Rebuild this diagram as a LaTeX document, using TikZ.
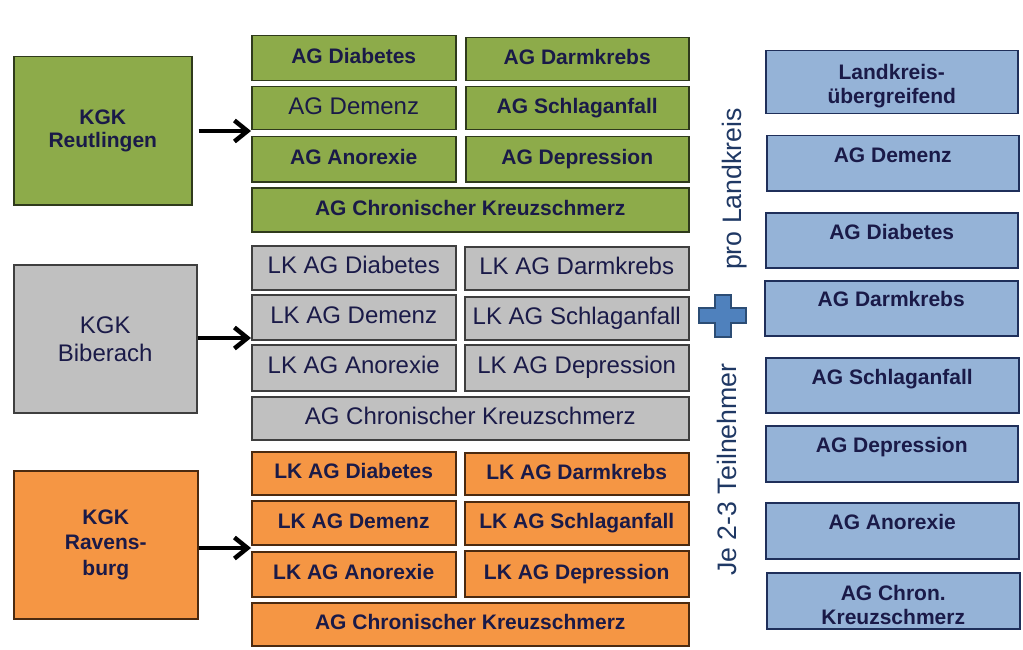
\documentclass[tikz,border=0pt]{standalone}
\usepackage{fontspec}
\setmainfont{Liberation Sans}
\usetikzlibrary{arrows.meta}
\definecolor{navy}{HTML}{1A1A48}
\definecolor{gfill}{HTML}{8DAB4A}
\definecolor{gline}{HTML}{2F3A1C}
\definecolor{sfill}{HTML}{C0C0C0}
\definecolor{sline}{HTML}{3F3F3F}
\definecolor{ofill}{HTML}{F59644}
\definecolor{oline}{HTML}{4A2A10}
\definecolor{bfill}{HTML}{95B3D7}
\definecolor{bline}{HTML}{1F2F5A}
\definecolor{pfill}{HTML}{4F81BD}
\definecolor{pline}{HTML}{2C4D75}
\definecolor{rtext}{HTML}{1F3864}
\newcommand\myfb{\fontsize{21}{24}\selectfont\bfseries}
\newcommand\myfr{\fontsize{24}{28}\selectfont}
\tikzset{
  cell/.style={draw, line width=1.5pt, anchor=north west, inner sep=0pt, text=navy},
  cb/.style={font=\myfb, text height=15pt, text depth=4.4pt},
  cr/.style={font=\myfr, text height=17.2pt, text depth=5pt},
  gc/.style={fill=gfill, draw=gline},
  sc/.style={fill=sfill, draw=sline},
  oc/.style={fill=ofill, draw=oline},
  kgk/.style={draw, line width=1.5pt, anchor=north west, inner sep=0pt, text=navy, align=center, minimum height=148pt},
  arr/.style={line width=4.5pt, black, -{Straight Barb[length=13pt,width=21pt]}},
  bbox/.style={draw=bline, fill=bfill, line width=1.5pt, anchor=north west, inner sep=0pt, minimum width=252pt},
  btext/.style={anchor=north, inner sep=0pt, font=\myfb, text=navy, align=center},
  rot/.style={rotate=90, anchor=base, inner sep=0pt, font=\fontsize{26.7}{30}\selectfont, text=rtext},
  plusshape/.style={fill=pfill, draw=pline, line width=2pt, line join=miter}
}
\begin{document}
\begin{tikzpicture}[x=1pt,y=-1pt]
\useasboundingbox (0,0) rectangle (1023,650);

% ---------- Reutlingen (green) ----------
\node[kgk,gc,minimum width=178pt,font={\fontsize{21}{23}\selectfont\bfseries}] (kR) at (13,56) {KGK\\Reutlingen};
\node[cell,gc,cb,minimum width=204pt,minimum height=45pt] (g1) at (251,35) {AG Diabetes};
\node[cell,gc,cb,minimum width=223pt,minimum height=43pt] (g2) at (465,37) {AG Darmkrebs};
\node[cell,gc,cr,minimum width=204pt,minimum height=43pt] (g3) at (251,86) {AG Demenz};
\node[cell,gc,cb,minimum width=223pt,minimum height=43pt] (g4) at (465,86) {AG Schlaganfall};
\node[cell,gc,cb,minimum width=204pt,minimum height=45pt] (g5) at (251,136) {AG Anorexie};
\node[cell,gc,cb,minimum width=223pt,minimum height=45pt] (g6) at (465,136) {AG Depression};
\node[cell,gc,cb,minimum width=437pt,minimum height=44pt] (g7) at (251,187) {AG Chronischer Kreuzschmerz};
\coordinate (tR) at (251,131);
\draw[arr] ([xshift=6pt]kR.east |- tR) -- (tR);

% ---------- Biberach (gray) ----------
\node[kgk,sc,minimum width=183pt,font={\fontsize{24}{28}\selectfont}] (kB) at (13,264) {KGK\\Biberach};
\node[cell,sc,cr,minimum width=204pt,minimum height=44pt] (s1) at (251,245) {LK AG Diabetes};
\node[cell,sc,cr,minimum width=224pt,minimum height=43pt] (s2) at (464,246) {LK AG Darmkrebs};
\node[cell,sc,cr,minimum width=204pt,minimum height=45pt] (s3) at (251,294) {LK AG Demenz};
\node[cell,sc,cr,minimum width=224pt,minimum height=43pt] (s4) at (464,296) {LK AG Schlaganfall};
\node[cell,sc,cr,minimum width=204pt,minimum height=46pt] (s5) at (251,344) {LK AG Anorexie};
\node[cell,sc,cr,minimum width=224pt,minimum height=46pt] (s6) at (464,344) {LK AG Depression};
\node[cell,sc,cr,minimum width=437pt,minimum height=43pt] (s7) at (251,396) {AG Chronischer Kreuzschmerz};
\coordinate (tB) at (251,338);
\draw[arr] (kB.east |- tB) -- (tB);

% ---------- Ravensburg (orange) ----------
\node[kgk,oc,minimum width=184pt,font={\fontsize{21}{25.5}\selectfont\bfseries}] (kO) at (13,470) {KGK\\Ravens-\\burg};
\node[cell,oc,cb,minimum width=204pt,minimum height=43pt] (o1) at (251,451) {LK AG Diabetes};
\node[cell,oc,cb,minimum width=224pt,minimum height=42pt] (o2) at (464,452) {LK AG Darmkrebs};
\node[cell,oc,cb,minimum width=204pt,minimum height=44pt] (o3) at (251,500) {LK AG Demenz};
\node[cell,oc,cb,minimum width=224pt,minimum height=43pt] (o4) at (464,501) {LK AG Schlaganfall};
\node[cell,oc,cb,minimum width=204pt,minimum height=45pt] (o5) at (251,551) {LK AG Anorexie};
\node[cell,oc,cb,minimum width=224pt,minimum height=46pt] (o6) at (464,550) {LK AG Depression};
\node[cell,oc,cb,minimum width=437pt,minimum height=43pt] (o7) at (251,602) {AG Chronischer Kreuzschmerz};
\coordinate (tO) at (251,548);
\draw[arr] (kO.east |- tO) -- (tO);

% ---------- rotated labels and plus ----------
\node[rot] (pl) at (741,189) {pro Landkreis};
\node[rot] (je) at (736,469.5) {Je 2-3 Teilnehmer};
\draw[plusshape] (715,295) -- (731,295) -- (731,308) -- (746,308) -- (746,323) -- (731,323)
  -- (731,337) -- (715,337) -- (715,323) -- (699,323) -- (699,308) -- (715,308) -- cycle;

% ---------- right column (blue) ----------
\node[bbox,minimum height=63pt] (b0) at (765,50) {};
\node[btext] (b0t) at ([yshift=-14.5pt]b0.north) {Landkreis-\\übergreifend};
\node[bbox,minimum height=55pt] (b1) at (766,135) {};
\node[btext] (b1t) at ([yshift=-12.5pt]b1.north) {AG Demenz};
\node[bbox,minimum height=55pt] (b2) at (765,212) {};
\node[btext] (b2t) at ([yshift=-12.5pt]b2.north) {AG Diabetes};
\node[bbox,minimum height=55pt,minimum width=253pt] (b3) at (764,280) {};
\node[btext] (b3t) at ([yshift=-11pt]b3.north) {AG Darmkrebs};
\node[bbox,minimum height=55pt,minimum width=253pt] (b4) at (765,357) {};
\node[btext] (b4t) at ([yshift=-12.5pt]b4.north) {AG Schlaganfall};
\node[bbox,minimum height=56pt] (b5) at (765,425) {};
\node[btext] (b5t) at ([yshift=-12.5pt]b5.north) {AG Depression};
\node[bbox,minimum height=56pt,minimum width=253pt] (b6) at (765,502) {};
\node[btext] (b6t) at ([yshift=-12pt]b6.north) {AG Anorexie};
\node[bbox,minimum height=56pt,minimum width=253pt] (b7) at (766,572) {};
\node[btext] (b7t) at ([yshift=-13.5pt]b7.north) {AG Chron.\\Kreuzschmerz};
\end{tikzpicture}
\end{document}
